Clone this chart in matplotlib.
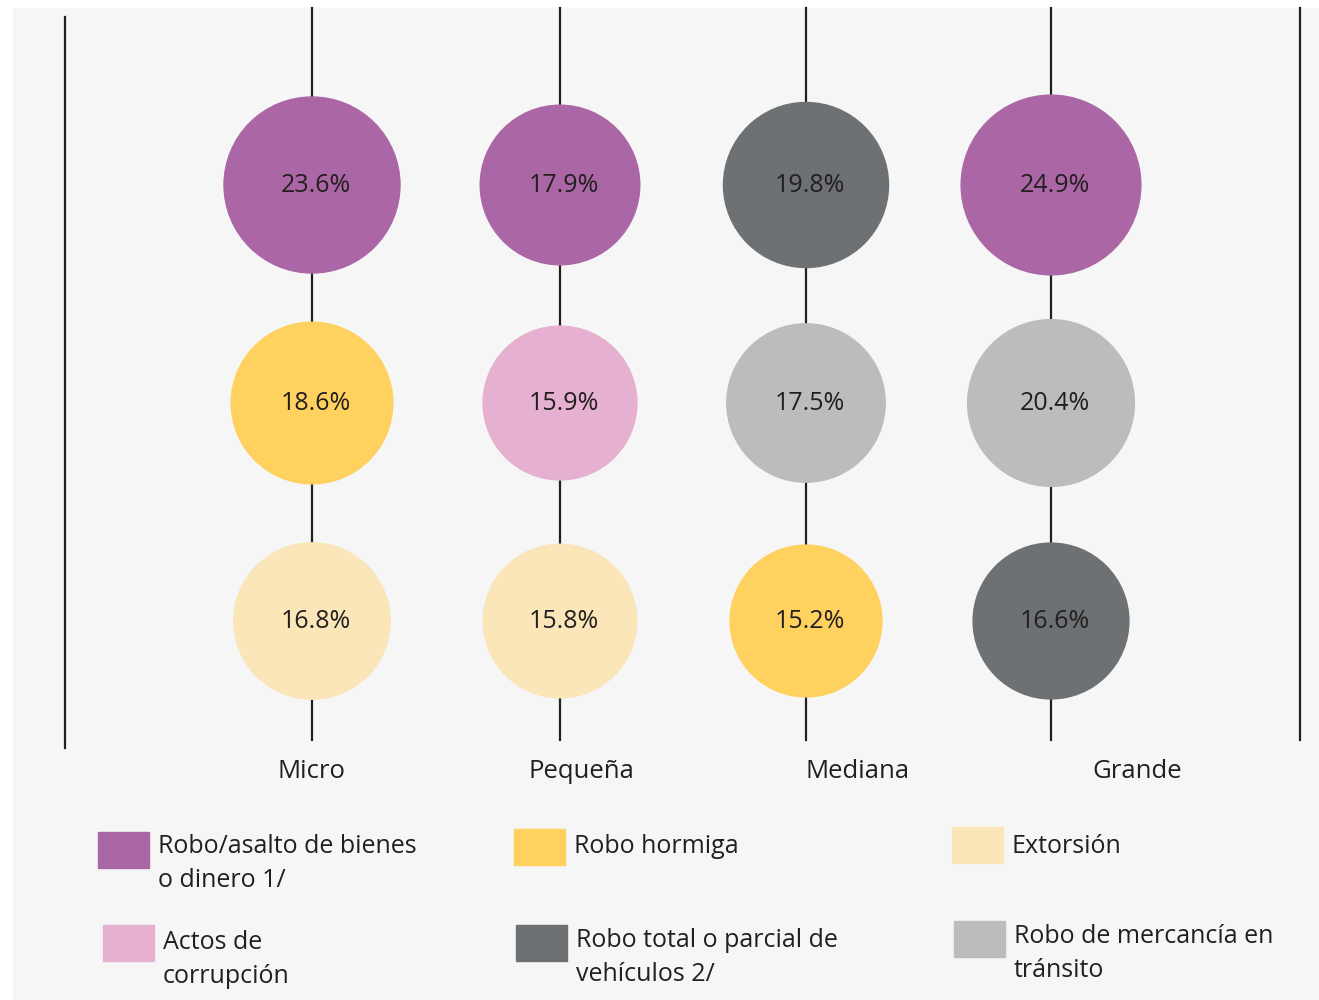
import matplotlib.pyplot as plt
from matplotlib.patches import Circle, Rectangle

plt.rcParams['font.family'] = ['Open Sans', 'DejaVu Sans']

# data: top three crimes per company size
sizes = ["Micro", "Pequeña", "Mediana", "Grande"]
values = [
    [23.6, 18.6, 16.8],
    [17.9, 15.9, 15.8],
    [19.8, 17.5, 15.2],
    [24.9, 20.4, 16.6],
]
crimes = [
    ["Robo/asalto", "Robo hormiga", "Extorsión"],
    ["Robo/asalto", "Corrupción", "Extorsión"],
    ["Vehículos", "Mercancía", "Robo hormiga"],
    ["Robo/asalto", "Mercancía", "Vehículos"],
]
legend_labels = [
    ("Robo/asalto", "Robo/asalto de bienes\no dinero 1/"),
    ("Robo hormiga", "Robo hormiga"),
    ("Extorsión", "Extorsión"),
    ("Corrupción", "Actos de\ncorrupción"),
    ("Vehículos", "Robo total o parcial de\nvehículos 2/"),
    ("Mercancía", "Robo de mercancía en\ntránsito"),
]

COLORS = {
    "Robo/asalto": "#ab67a5",
    "Robo hormiga": "#ffd15e",
    "Extorsión": "#fae6b8",
    "Corrupción": "#e6b0d0",
    "Vehículos": "#6d7173",
    "Mercancía": "#babcbd",
}
TEXT = "#231f20"

col_x = [312, 560, 806, 1051]
row_y = [185, 403, 621]
label_x = [311, 581, 858, 1137]


def radius(v):
    return 54 + 1.44 * v


fig = plt.figure(figsize=(13.19, 10), dpi=100, facecolor="white")
ax = fig.add_axes([0, 0, 1, 1])
ax.set_xlim(0, 1319)
ax.set_ylim(1000, 0)
ax.axis("off")

ax.add_patch(Rectangle((13, 8), 1306, 992, color="#f6f6f6", zorder=0))

# frame lines
ax.plot([65, 65], [17, 748], color="#231f20", lw=1.6, zorder=1)
ax.plot([1300, 1300], [8, 740], color="#231f20", lw=1.6, zorder=1)

for i, size in enumerate(sizes):
    x = col_x[i]
    ax.plot([x, x], [8, 740], color="#231f20", lw=1.6, zorder=1)
    for j, v in enumerate(values[i]):
        ax.add_patch(Circle((x, row_y[j]), radius(v), color=COLORS[crimes[i][j]], zorder=2))
        ax.text(x + 4, row_y[j], f"{v:.1f}%", ha="center", va="center",
                fontsize=18, color=TEXT, zorder=3)
    ax.text(label_x[i], 772, size, ha="center", va="center", fontsize=18.5, color=TEXT)

# legend
box_pos = [(98, 832), (514, 829), (952, 827), (103, 925), (516, 925), (954, 921)]
text_top = [834, 834, 834, 930, 928, 924]
for (key, label), (bx, by), ty in zip(legend_labels, box_pos, text_top):
    ax.add_patch(Rectangle((bx, by), 51, 36, color=COLORS[key], zorder=2))
    ax.text(bx + 60, ty, label, ha="left", va="top", fontsize=18,
            color=TEXT, linespacing=1.45)

fig.savefig("out.png", dpi=100, facecolor="white")
